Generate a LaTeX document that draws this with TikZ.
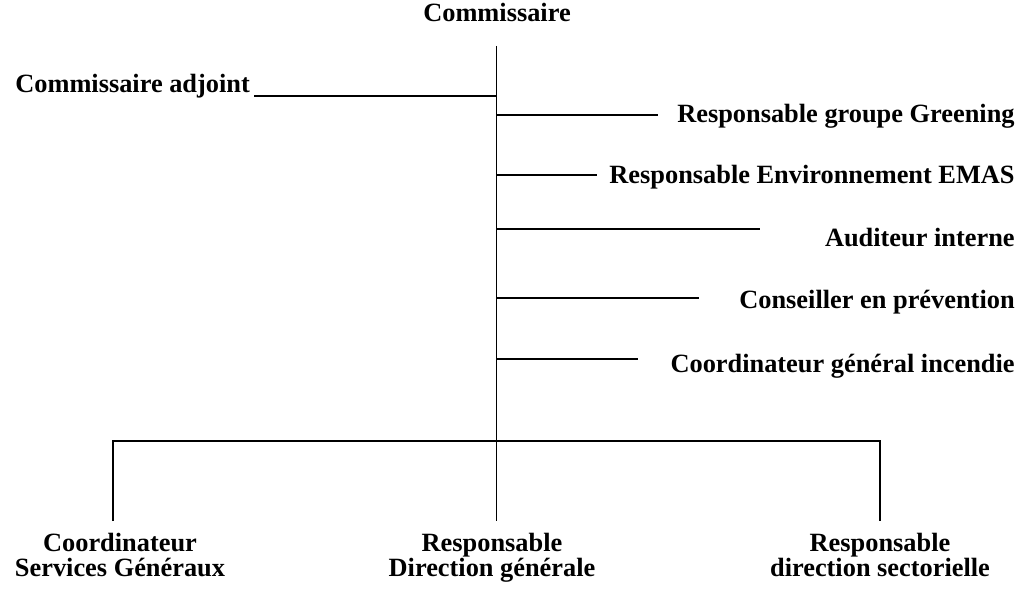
\documentclass[tikz,border=0pt]{standalone}
\usepackage{fontspec}
\setmainfont{Liberation Serif}
\usetikzlibrary{positioning}

\begin{document}
\begin{tikzpicture}[]
	%\draw[help lines] (0,-12) grid (21,0);
	\useasboundingbox (0,0) rectangle (20.52,-11.84);

	\tikzstyle{tnode} = [inner sep=0pt,font=\fontsize{15}{14.3}\selectfont\bfseries]
	\tikzstyle{bnode} = [tnode,align=center,anchor=north]
	\tikzstyle{oline} = [line width=0.8pt]

	\node[tnode,anchor=base] (com) at (9.94,-0.44) {Commissaire};
	\node[tnode,anchor=base west] (adj) at (0.30,-1.86) {Commissaire adjoint};
	\node[tnode,anchor=base east] (gre) at (20.30,-2.46) {Responsable groupe Greening};
	\node[tnode,anchor=base east] (ema) at (20.30,-3.68) {Responsable Environnement EMAS};
	\node[tnode,anchor=base east] (aud) at (20.30,-4.94) {Auditeur interne};
	\node[tnode,anchor=base east] (con) at (20.30,-6.18) {Conseiller en prévention};
	\node[tnode,anchor=base east] (inc) at (20.30,-7.44) {Coordinateur général incendie};

	\node[bnode] (csg) at (2.40,-10.66) {Coordinateur\\Services Généraux};
	\node[bnode] (rdg) at (9.84,-10.66) {Responsable\\Direction générale};
	\node[bnode] (rds) at (17.60,-10.66) {Responsable\\direction sectorielle};

	\coordinate (t0) at (9.93,-0.92);
	\coordinate (t1) at (9.93,-1.92);
	\coordinate (t2) at (9.93,-2.30);
	\coordinate (t3) at (9.93,-3.50);
	\coordinate (t4) at (9.93,-4.58);
	\coordinate (t5) at (9.93,-5.96);
	\coordinate (t6) at (9.93,-7.18);
	\coordinate (t7) at (9.93,-8.82);

	\coordinate (e1) at (5.08,-1.92);
	\coordinate (e2) at (13.16,-2.30);
	\coordinate (e3) at (11.94,-3.50);
	\coordinate (e4) at (15.20,-4.58);
	\coordinate (e5) at (13.98,-5.96);
	\coordinate (e6) at (12.76,-7.18);

	\coordinate (b1) at (2.26,-8.82);
	\coordinate (b3) at (17.60,-8.82);
	\coordinate (f1) at (2.26,-10.42);
	\coordinate (f2) at (9.93,-10.42);
	\coordinate (f3) at (17.60,-10.42);

	\draw (t0) edge [oline] (t7);

	\draw (t1) edge [oline] (e1);
	\draw (t2) edge [oline] (e2);
	\draw (t3) edge [oline] (e3);
	\draw (t4) edge [oline] (e4);
	\draw (t5) edge [oline] (e5);
	\draw (t6) edge [oline] (e6);

	\draw[oline] (f1) -- (b1) -- (b3) -- (f3);
	\draw (t7) edge [oline] (f2);

\end{tikzpicture}
\end{document}
